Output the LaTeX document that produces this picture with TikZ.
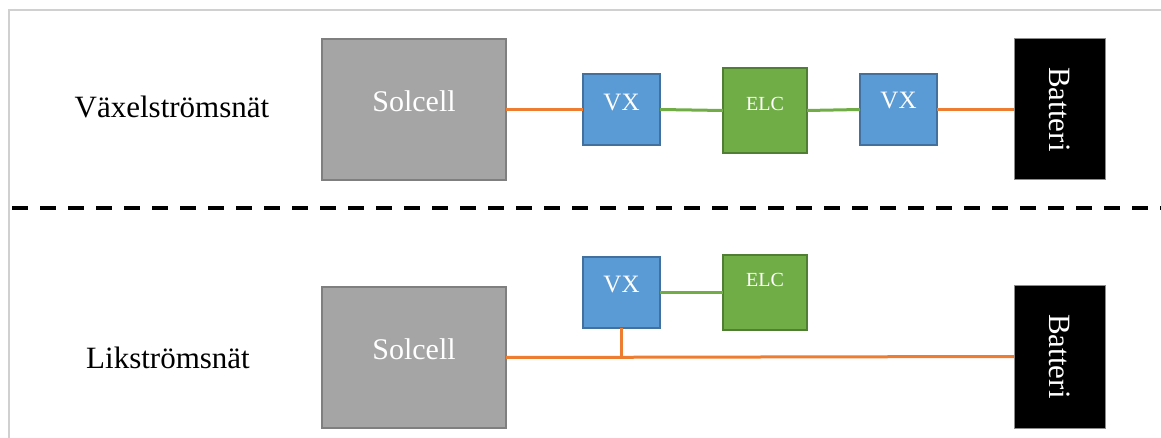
\documentclass[tikz,border=0pt]{standalone}
\usepackage{fontspec}
\setmainfont{Liberation Serif}
\definecolor{solgray}{HTML}{A5A5A5}
\definecolor{soledge}{HTML}{7F7F7F}
\definecolor{vxblue}{HTML}{5B9BD5}
\definecolor{vxedge}{HTML}{41719C}
\definecolor{elcgreen}{HTML}{70AD47}
\definecolor{elcedge}{HTML}{507E32}
\definecolor{wireorange}{HTML}{ED7D31}
\definecolor{framegray}{HTML}{D0D0D0}
\definecolor{batedge}{HTML}{8C8C8C}

\begin{document}
\begin{tikzpicture}[x=1pt,y=-1pt,
  box/.style={draw, line width=2pt, inner sep=0pt, outer sep=0pt, text=white},
  solcell/.style={box, fill=solgray, draw=soledge, minimum width=184pt,
    minimum height=141pt, font=\fontsize{30}{36}\selectfont, text depth=16pt},
  vxbox/.style={box, fill=vxblue, draw=vxedge, minimum width=77pt,
    minimum height=71pt, font=\fontsize{25}{30}\selectfont},
  elcbox/.style={box, fill=elcgreen, draw=elcedge, minimum width=84pt,
    font=\fontsize{20}{24}\selectfont},
  battery/.style={box, fill=black, draw=batedge, line width=1pt,
    minimum width=91pt, minimum height=141pt, font=\fontsize{31}{36}\selectfont},
  gridlabel/.style={inner sep=0pt, font=\fontsize{31}{36}\selectfont},
  acwire/.style={draw=wireorange, line width=3pt},
  dcwire/.style={draw=elcgreen, line width=3pt}
]
\useasboundingbox (0,0) rectangle (1161,438);

% outer frame (top and left edges)
\coordinate (fl) at (9,438);
\coordinate (ftl) at (9,10);
\coordinate (ftr) at (1161,10);
\draw[framegray, line width=2pt] (fl) -- (ftl) -- (ftr);

% separator between the two systems
\coordinate (sepl) at (12,208);
\coordinate (sepr) at (1161,208);
\draw[black, line width=4pt, dash pattern=on 16pt off 12pt] (sepl) -- (sepr);

% AC grid
\node[gridlabel] (acl) at (172,107) {Växelströmsnät};
\node[solcell] (s1) at (414,109.5) {Solcell};
\node[vxbox, text depth=14pt] (v1) at (621.5,109.5) {VX};
\node[elcbox, minimum height=85pt, text depth=13pt] (e1) at (765,110.5) {ELC};
\node[vxbox, text depth=18pt] (v2) at (898.5,109.5) {VX};
\node[battery] (b1) at (1059.5,109.5) {\rotatebox{-90}{Batteri}};

\draw[acwire] (s1.east) -- (v1.west);
\draw[dcwire] (v1.east) -- (e1.west);
\draw[dcwire] (e1.east) -- (v2.west);
\draw[acwire] (v2.east) -- (b1.west);

% DC grid
\node[gridlabel] (dcl) at (168,358) {Likströmsnät};
\node[solcell] (s2) at (414,357.5) {Solcell};
\node[vxbox, text depth=16pt] (v3) at (621.5,292.5) {VX};
\node[elcbox, minimum height=75pt, text depth=26pt] (e2) at (765,292.5) {ELC};
\node[battery, minimum height=143pt] (b2) at (1059.5,356.5) {\rotatebox{-90}{Batteri}};

\draw[acwire] (s2.east) -- (b2.west);
\draw[acwire] (v3.south) -- (v3.south |- s2.east);
\draw[dcwire] (v3.east) -- (e2.west);
\end{tikzpicture}
\end{document}
